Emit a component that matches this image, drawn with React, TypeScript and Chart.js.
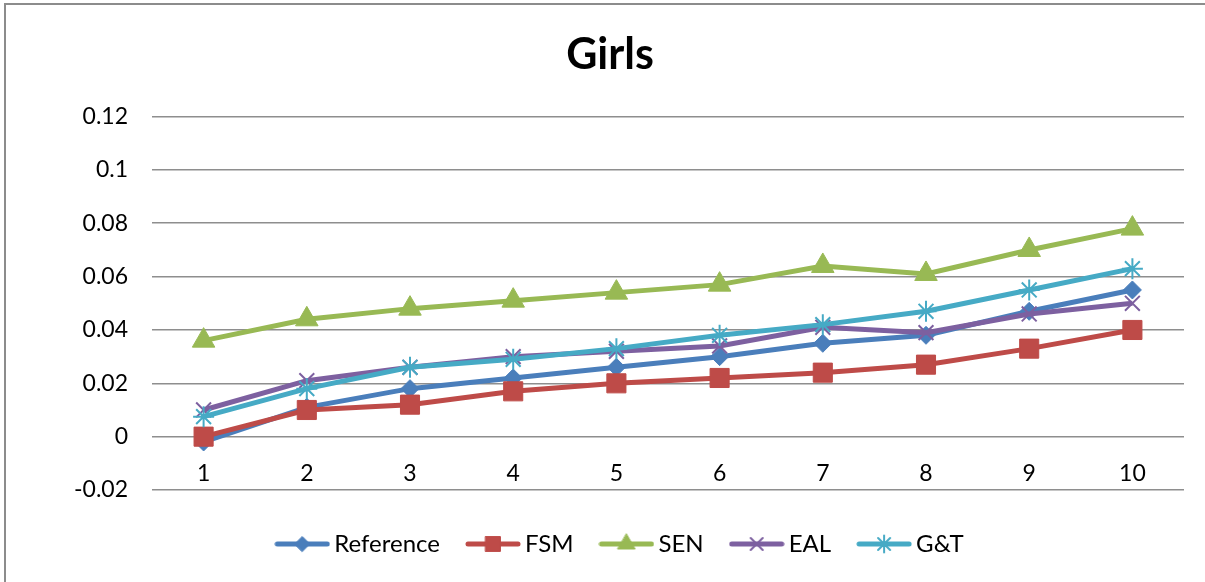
import React, { useEffect, useRef } from 'react';
import { Chart, registerables } from 'chart.js';
import { drawPoint } from 'chart.js/helpers';

Chart.register(...registerables);

// ---------- data ----------
const categories = ['1', '2', '3', '4', '5', '6', '7', '8', '9', '10'];
const yTickValues = [-0.02, 0, 0.02, 0.04, 0.06, 0.08, 0.1, 0.12];
const seriesNames = ['Reference', 'FSM', 'SEN', 'EAL', 'G&T'];
const referenceValues = [-0.002, 0.011, 0.018, 0.022, 0.026, 0.03, 0.035, 0.038, 0.047, 0.055];
const fsmValues = [0, 0.01, 0.012, 0.017, 0.02, 0.022, 0.024, 0.027, 0.033, 0.04];
const senValues = [0.036, 0.044, 0.048, 0.051, 0.054, 0.057, 0.064, 0.061, 0.07, 0.078];
const ealValues = [0.01, 0.021, 0.026, 0.03, 0.032, 0.034, 0.041, 0.039, 0.046, 0.05];
const gtValues = [0.0075, 0.018, 0.026, 0.029, 0.033, 0.038, 0.042, 0.047, 0.055, 0.063];
const titleText = 'Girls';

// ---------- styles ----------
const seriesColors = ['#4A7EBB', '#BE4B48', '#98B954', '#7D60A0', '#46AAC5'];
const pointStyles = ['rectRot', 'rect', 'triangle', 'crossRot', 'star'];
const pointRadii = [9, 13.5, 13, 10.5, 10.5];
const pointBorders = [1, 1, 1, 2, 2];
const legendRadii = [7.5, 10.5, 10, 8.5, 8.5];
const FONT = 'Lato';
const LEGEND_DX = 13;

function makeLegendImage(i: number): HTMLCanvasElement {
  const c = document.createElement('canvas');
  c.width = 56;
  c.height = 24;
  const ctx = c.getContext('2d')!;
  ctx.strokeStyle = seriesColors[i];
  ctx.fillStyle = seriesColors[i];
  ctx.lineWidth = 5;
  ctx.lineCap = 'round';
  ctx.beginPath();
  ctx.moveTo(3, 12);
  ctx.lineTo(53, 12);
  ctx.stroke();
  ctx.lineWidth = pointBorders[i];
  drawPoint(ctx, { pointStyle: pointStyles[i] as any, radius: legendRadii[i], rotation: 0, borderWidth: pointBorders[i] } as any, 28, 12);
  return c;
}

const legendShift = {
  id: 'legendShift',
  afterUpdate(chart: any) {
    const lg = chart.legend;
    if (lg && !lg.__shifted) {
      const orig = lg.draw;
      lg.draw = function (...args: any[]) {
        const c = this.ctx;
        c.save();
        c.translate(LEGEND_DX, 0);
        orig.apply(this, args);
        c.restore();
      };
      lg.__shifted = true;
    }
  },
};

export default function App() {
  const ref = useRef<HTMLCanvasElement>(null);

  useEffect(() => {
    if (!ref.current) return;
    const allValues = [referenceValues, fsmValues, senValues, ealValues, gtValues];
    const legendImages = seriesNames.map((_, i) => makeLegendImage(i));
    const chart = new Chart(ref.current, {
      type: 'line',
      data: {
        labels: categories,
        datasets: seriesNames.map((name, i) => ({
          label: name,
          data: allValues[i],
          borderColor: seriesColors[i],
          backgroundColor: seriesColors[i],
          borderWidth: 5,
          pointStyle: pointStyles[i] as any,
          pointRadius: pointRadii[i],
          pointBorderWidth: pointBorders[i],
          pointBackgroundColor: seriesColors[i],
          pointBorderColor: seriesColors[i],
          tension: 0,
          fill: false,
          order: seriesNames.length - i,
        })),
      },
      options: {
        responsive: false,
        animation: false,
        layout: { padding: { left: 36, right: 21, top: 0, bottom: 16 } },
        scales: {
          x: {
            type: 'category',
            position: { y: 0 } as any,
            offset: true,
            grid: { display: false, drawTicks: false },
            border: { display: false },
            ticks: { font: { family: FONT, size: 23 }, color: '#000', padding: 23, maxRotation: 0 },
          },
          spacer: {
            type: 'category',
            axis: 'x',
            position: 'bottom',
            display: true,
            grid: { display: false, drawTicks: false },
            border: { display: false },
            ticks: { display: false },
            afterFit: (s: any) => { s.height = 9; },
          } as any,
          y: {
            type: 'linear',
            min: yTickValues[0],
            max: yTickValues[yTickValues.length - 1],
            afterBuildTicks: (s: any) => { s.ticks = yTickValues.map((v) => ({ value: v })); },
            afterFit: (s: any) => { s.width = 116; },
            grid: { color: '#8e8e8e', lineWidth: 1.6, drawTicks: false },
            border: { display: false },
            ticks: {
              font: { family: FONT, size: 23 },
              color: '#000',
              padding: 24,
              callback: (v: any) => String(Number(Number(v).toFixed(3))),
            },
          },
        },
        plugins: {
          title: {
            display: true,
            text: titleText,
            color: '#000',
            font: { family: FONT, size: 43, weight: 'bold' },
            padding: { top: 29, bottom: 36 },
          },
          legend: {
            display: true,
            position: 'bottom',
            labels: {
              usePointStyle: true,
              pointStyleWidth: 40,
              padding: 33,
              color: '#000',
              font: { family: FONT, size: 24 },
              generateLabels: (ch: any) =>
                ch.data.datasets.map((ds: any, i: number) => ({
                  text: ds.label,
                  pointStyle: legendImages[i],
                  fillStyle: seriesColors[i],
                  strokeStyle: seriesColors[i],
                  lineWidth: 0,
                  hidden: false,
                  datasetIndex: i,
                  fontColor: '#000',
                })),
            },
          },
          tooltip: { enabled: false },
        },
      },
      plugins: [legendShift],
    });
    return () => chart.destroy();
  }, []);

  return (
    <div style={{ position: 'fixed', left: 0, top: 0, width: 1205, height: 582, overflow: 'hidden', background: '#fff' }}>
      <div style={{ position: 'absolute', left: 4, top: 3, width: 1400, height: 800, border: '2px solid #8c8c8c', boxSizing: 'border-box' }} />
      <canvas ref={ref} width={1205} height={582} style={{ position: 'absolute', left: 0, top: 0, width: 1205, height: 582 }} />
    </div>
  );
}
